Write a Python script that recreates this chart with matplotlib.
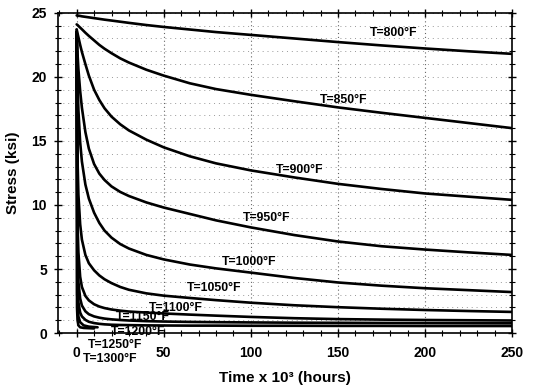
import matplotlib
matplotlib.use("Agg")
import matplotlib.pyplot as plt
from matplotlib.ticker import MultipleLocator

plt.rcParams['font.family'] = ['Liberation Sans', 'DejaVu Sans']
plt.rcParams['font.weight'] = 'bold'

# Time (x 10^3 hours)
time_long = [0, 0.5, 1, 2, 3, 5, 7, 10, 13, 16, 20, 25, 30, 40, 50, 65, 80, 100, 125, 150, 175, 200, 225, 250]

s800 = [24.8, 24.79, 24.78, 24.76, 24.73, 24.69, 24.65, 24.59, 24.53, 24.47, 24.4, 24.31, 24.22, 24.05, 23.9, 23.7, 23.5, 23.28, 23.0, 22.72, 22.46, 22.22, 22.0, 21.8]
s850 = [24.1, 24.05, 23.98, 23.85, 23.72, 23.45, 23.2, 22.85, 22.5, 22.2, 21.85, 21.45, 21.12, 20.56, 20.1, 19.5, 19.05, 18.6, 18.1, 17.62, 17.2, 16.8, 16.4, 16.0]
s900 = [23.7, 23.4, 23.1, 22.5, 21.95, 21.0, 20.1, 19.0, 18.2, 17.55, 16.9, 16.3, 15.82, 15.1, 14.5, 13.8, 13.25, 12.7, 12.15, 11.65, 11.25, 10.9, 10.65, 10.4]
s950 = [23.7, 21.8, 20.6, 18.9, 17.6, 15.7, 14.4, 13.2, 12.45, 11.95, 11.45, 11.02, 10.7, 10.2, 9.8, 9.3, 8.8, 8.25, 7.65, 7.15, 6.78, 6.52, 6.3, 6.1]
s1000 = [23.5, 19.5, 17.4, 14.9, 13.4, 11.6, 10.5, 9.4, 8.6, 8.0, 7.45, 6.95, 6.6, 6.1, 5.75, 5.35, 5.05, 4.72, 4.3, 3.95, 3.7, 3.5, 3.35, 3.2]
s1050 = [23.5, 13.5, 10.8, 8.5, 7.3, 6.1, 5.45, 4.9, 4.5, 4.2, 3.9, 3.6, 3.38, 3.1, 2.92, 2.74, 2.57, 2.37, 2.17, 2.02, 1.9, 1.8, 1.72, 1.65]
s1100 = [23.5, 8.5, 6.3, 4.4, 3.6, 2.9, 2.55, 2.25, 2.07, 1.95, 1.84, 1.75, 1.68, 1.6, 1.53, 1.44, 1.36, 1.26, 1.16, 1.09, 1.05, 1.02, 1.0, 0.98]
s1150 = [23.5, 5.5, 4.0, 2.7, 2.15, 1.7, 1.47, 1.3, 1.2, 1.13, 1.07, 1.02, 0.98, 0.93, 0.9, 0.87, 0.85, 0.83, 0.81, 0.8, 0.79, 0.78, 0.77, 0.76]
s1200 = [23.5, 3.5, 2.4, 1.6, 1.3, 1.03, 0.88, 0.78, 0.72, 0.68, 0.65, 0.63, 0.62, 0.6, 0.59, 0.58, 0.58, 0.57, 0.57, 0.56, 0.56, 0.55, 0.55, 0.55]

time_1250 = [0, 0.3, 1, 2, 4, 7, 12]
s1250 = [23.5, 3.0, 1.3, 0.85, 0.6, 0.5, 0.45]
time_1300 = [0, 0.2, 0.5, 1, 2, 4, 7, 10]
s1300 = [23.5, 2.0, 1.0, 0.6, 0.45, 0.4, 0.38, 0.36]

labels = ['T=800°F', 'T=850°F', 'T=900°F', 'T=950°F', 'T=1000°F', 'T=1050°F',
          'T=1100°F', 'T=1150°F', 'T=1200°F', 'T=1250°F', 'T=1300°F']
label_t = [182, 153, 128, 109, 99, 79, 57, 38, 35, 22, 19]
label_s = [23.4, 18.2, 12.7, 9.0, 5.55, 3.55, 1.95, 1.25, 0.1, -0.95, -2.0]

fig = plt.figure(figsize=(5.34, 3.9), dpi=100)
ax = fig.add_axes([0.109, 0.146, 0.85, 0.821])

series = [(time_long, s800), (time_long, s850), (time_long, s900), (time_long, s950),
          (time_long, s1000), (time_long, s1050), (time_long, s1100), (time_long, s1150),
          (time_long, s1200), (time_1250, s1250), (time_1300, s1300)]
for t, s in series:
    ax.plot(t, s, color='black', lw=1.9, solid_capstyle='round', solid_joinstyle='round', zorder=3)

for lab, lt, ls in zip(labels, label_t, label_s):
    ax.text(lt, ls, lab, ha='center', va='center', fontsize=8.8, fontweight='bold',
            clip_on=False, zorder=4)

ax.set_xlim(-10.6, 250)
ax.set_ylim(0, 25)
ax.xaxis.set_major_locator(MultipleLocator(50))
ax.xaxis.set_minor_locator(MultipleLocator(10))
ax.yaxis.set_major_locator(MultipleLocator(5))
ax.yaxis.set_minor_locator(MultipleLocator(1))

ax.grid(True, which='major', axis='x', linestyle=(0, (1, 2.5)), color='#666666', lw=0.8)
ax.grid(True, which='both', axis='y', linestyle=(0, (1, 4)), color='#999999', lw=0.7)

ax.tick_params(which='major', direction='inout', length=6, width=1.0, top=True, right=True,
               labelsize=10)
ax.tick_params(which='minor', direction='inout', length=4, width=0.8, top=True, right=True)
ax.tick_params(axis='x', pad=6)
ax.tick_params(axis='y', pad=5)
for lab in ax.get_xticklabels() + ax.get_yticklabels():
    lab.set_fontweight('bold')

for sp in ax.spines.values():
    sp.set_linewidth(1.2)

ax.set_xlabel('Time x 10³ (hours)', fontsize=11, fontweight='bold', labelpad=8)
ax.set_ylabel('Stress (ksi)', fontsize=11, fontweight='bold', labelpad=8)

fig.savefig('out.png', dpi=100)
